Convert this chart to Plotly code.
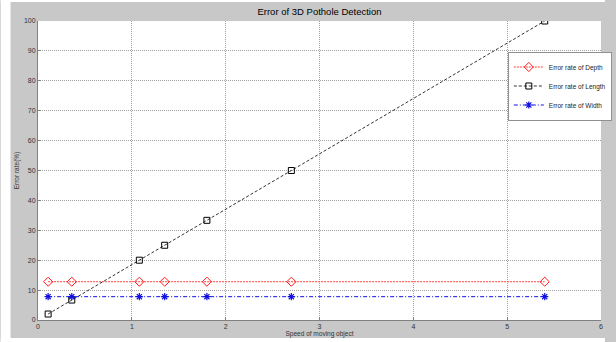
import plotly.graph_objects as go

# Data
speed = [0.108, 0.36, 1.08, 1.35, 1.8, 2.7, 5.4]
err_depth = [12.8, 12.8, 12.8, 12.8, 12.8, 12.8, 12.8]
err_length = [2.0, 6.67, 20.0, 25.0, 33.33, 50.0, 100.0]
err_width = [7.8, 7.8, 7.8, 7.8, 7.8, 7.8, 7.8]
x_ticks = [0, 1, 2, 3, 4, 5, 6]
y_ticks = [0, 10, 20, 30, 40, 50, 60, 70, 80, 90, 100]

FONT = "Liberation Sans, Arial, sans-serif"
GRAY = "#c8c8c8"

fig = go.Figure()
fig.add_trace(go.Scatter(
    x=speed, y=err_depth, mode="lines+markers", name="Error rate of Depth",
    line=dict(color="#ff4040", width=1, dash="2px,1px"),
    marker=dict(symbol="diamond-open", size=7, color="#ff1a1a", line=dict(width=1)),
))
fig.add_trace(go.Scatter(
    x=speed, y=err_length, mode="lines+markers", name="Error rate of Length",
    line=dict(color="black", width=0.8, dash="3px,2px"),
    marker=dict(symbol="square-open", size=6, color="black", line=dict(width=1)),
))
fig.add_trace(go.Scatter(
    x=speed, y=err_width, mode="lines+markers", name="Error rate of Width",
    line=dict(color="#1010e0", width=1, dash="4px,2px,1px,2px"),
    marker=dict(symbol="asterisk-open", size=6, color="#1010e0",
                line=dict(width=1.2, color="#1010e0")),
))

L, R, T, B = 38, 4, 21, 22
W, H = 616, 342
pw = W - L - R
ph = H - T - B

def px_x(p):
    return (p - L) / pw

def px_y(p):
    return (H - B - p) / ph

grid_style = dict(showgrid=True, gridcolor="#a0a0a0", griddash="1px,1px", gridwidth=1,
                  zeroline=False, showline=True, linecolor="#808080", linewidth=1,
                  ticks="inside", ticklen=3, tickcolor="#808080",
                  tickfont=dict(size=7, color="#333333"))

fig.update_layout(
    width=W, height=H,
    margin=dict(l=L, r=R, t=T, b=B, pad=0),
    paper_bgcolor=GRAY,
    plot_bgcolor="white",
    font=dict(family=FONT, size=7, color="#333333"),
    title=dict(text="Error of 3D Pothole Detection", x=0.5, xref="paper",
               xanchor="center", y=1 - 12 / H, yanchor="middle",
               font=dict(size=9.5, color="black", family=FONT)),
    xaxis=dict(range=[0, 6], tickvals=x_ticks,
               title=dict(text="Speed of moving object", standoff=2,
                          font=dict(size=6.5, color="#333333")),
               **grid_style),
    yaxis=dict(range=[0, 100], tickvals=y_ticks,
               title=dict(text="Error rate(%)", standoff=3,
                          font=dict(size=6.5, color="#333333")),
               **grid_style),
    legend=dict(x=px_x(517), y=px_y(86), xanchor="left", yanchor="middle",
                bgcolor="white", bordercolor="#909090", borderwidth=1,
                font=dict(size=6.5, color="#222222"),
                itemwidth=30, tracegroupgap=0),
    showlegend=True,
    shapes=[
        dict(type="rect", xref="paper", yref="paper", layer="below",
             x0=px_x(0), x1=px_x(10), y0=px_y(H), y1=px_y(0),
             fillcolor="white", line=dict(width=0)),
        dict(type="rect", xref="paper", yref="paper", layer="below",
             x0=px_x(0), x1=px_x(W), y0=px_y(H), y1=px_y(338),
             fillcolor="white", line=dict(width=0)),
        dict(type="rect", xref="paper", yref="paper", layer="below",
             x0=px_x(0), x1=px_x(W), y0=px_y(2), y1=px_y(0),
             fillcolor="white", line=dict(width=0)),
    ],
)

fig.write_html("out.html")
